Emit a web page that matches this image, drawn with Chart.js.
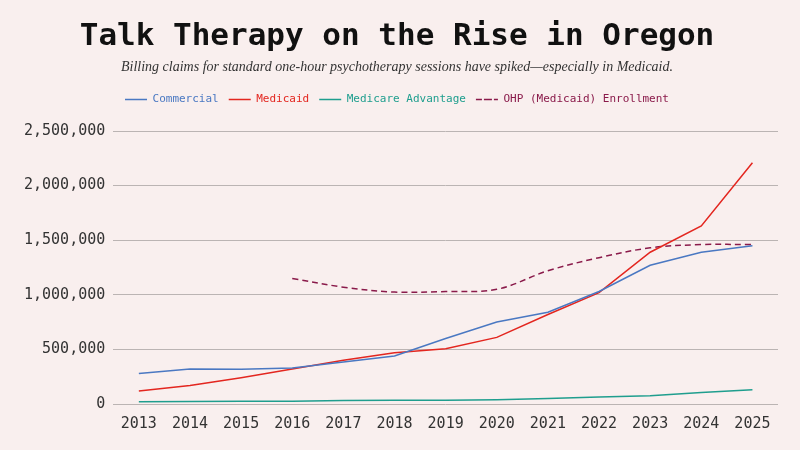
<!DOCTYPE html>
<html>
<head>
<meta charset="utf-8">
<script src="https://cdn.jsdelivr.net/npm/chart.js@4"></script>
<style>
  html, body { margin: 0; padding: 0; background: #f9efee; }
  #wrap { width: 800px; height: 450px; position: relative; }
</style>
</head>
<body>
<div id="wrap"><canvas id="c" width="800" height="450"></canvas></div>
<script>
// ------------------------------
//  Data
// ------------------------------
const years = ["2013","2014","2015","2016","2017","2018","2019","2020","2021","2022","2023","2024","2025"];
const commercial = [280000, 320000, 318000, 330000, 385000, 440000, 600000, 750000, 840000, 1030000, 1270000, 1390000, 1450000];
const medicaid = [120000, 170000, 240000, 320000, 400000, 470000, 505000, 610000, 820000, 1020000, 1390000, 1630000, 2210000];
const medicareAdv = [20000, 22000, 25000, 25000, 32000, 35000, 35000, 40000, 50000, 65000, 75000, 105000, 130000];
const ohpEnrollment = [null, null, null, 1150000, 1070000, 1025000, 1030000, 1050000, 1220000, 1340000, 1430000, 1460000, 1460000];

const mono = "'DejaVu Sans Mono', monospace";

// extra space under the legend
const legendGap = {
  id: "legendGap",
  beforeInit(chart) {
    const fit = chart.legend.fit;
    chart.legend.fit = function () {
      fit.bind(chart.legend)();
      this.height += 16;
    };
  }
};

const ctx = document.getElementById("c").getContext("2d");
new Chart(ctx, {
  type: "line",
  data: {
    labels: years,
    datasets: [
      { label: "Commercial", data: commercial, borderColor: "#4a78c2", borderWidth: 1.5, tension: 0 },
      { label: "Medicaid", data: medicaid, borderColor: "#e3261f", borderWidth: 1.5, tension: 0 },
      { label: "Medicare Advantage", data: medicareAdv, borderColor: "#1f9e8e", borderWidth: 1.5, tension: 0 },
      { label: "OHP (Medicaid) Enrollment", data: ohpEnrollment, borderColor: "#8a1a4a", borderWidth: 1.5, borderDash: [6, 4], tension: 0.35 }
    ]
  },
  plugins: [legendGap],
  options: {
    responsive: false,
    animation: false,
    layout: { padding: { left: 16, right: 22, top: 0, bottom: 14 } },
    elements: { point: { radius: 0 } },
    scales: {
      x: {
        offset: true,
        grid: { display: false },
        border: { display: false },
        ticks: { color: "#333", font: { family: mono, size: 15 } }
      },
      y: {
        min: 0, max: 2500000,
        ticks: {
          stepSize: 500000,
          color: "#333",
          padding: 8,
          font: { family: mono, size: 15 },
          callback: v => v.toLocaleString("en-US")
        },
        grid: { color: "#bbb4b3", drawTicks: false },
        border: { display: false }
      }
    },
    plugins: {
      title: {
        display: true,
        text: "Talk Therapy on the Rise in Oregon",
        color: "#111",
        font: { family: mono, size: 31, weight: "bold" },
        padding: { top: 18, bottom: 4 }
      },
      subtitle: {
        display: true,
        text: "Billing claims for standard one-hour psychotherapy sessions have spiked\u2014especially in Medicaid.",
        color: "#333",
        font: { family: "'Liberation Serif', serif", size: 14, style: "italic" },
        padding: { bottom: 8 }
      },
      legend: {
        display: true,
        labels: {
          boxWidth: 22, boxHeight: 0,
          font: { family: mono, size: 11 },
          generateLabels: chart => chart.data.datasets.map((d, i) => ({
            text: d.label, strokeStyle: d.borderColor, fillStyle: d.borderColor,
            lineWidth: 1.5, lineDash: d.borderDash || [], fontColor: d.borderColor, datasetIndex: i
          }))
        }
      },
      tooltip: { enabled: false }
    }
  }
});
</script>
</body>
</html>
